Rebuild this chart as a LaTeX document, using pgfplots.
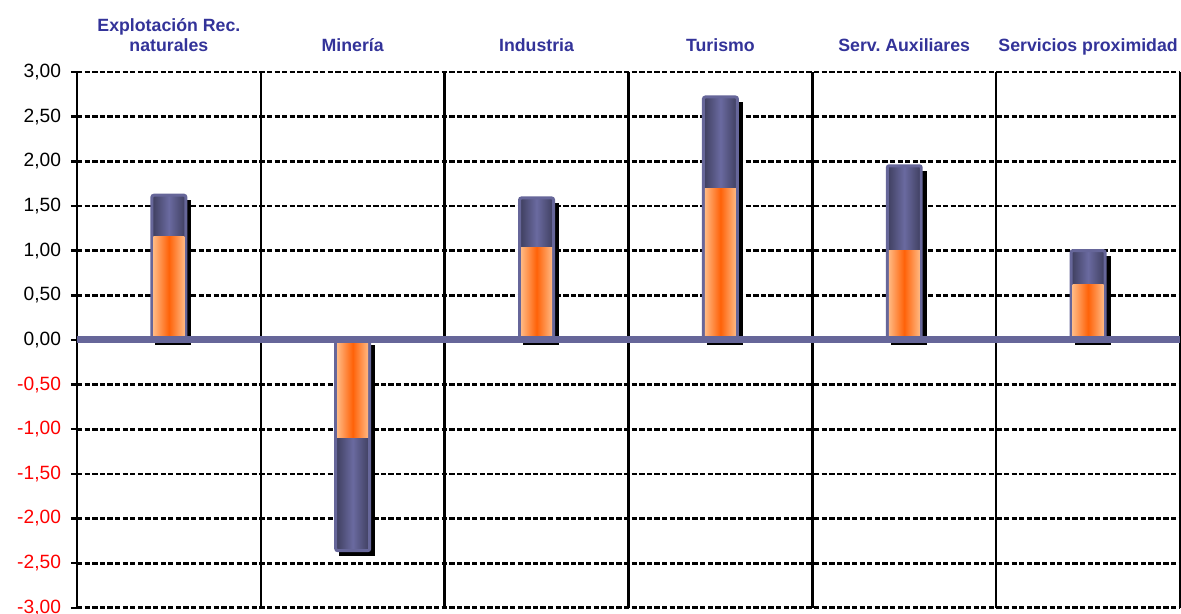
\documentclass[border=0pt]{standalone}
\usepackage{pgfplots}
\pgfplotsset{compat=1.18}
\usepackage{fontspec}
\setmainfont{Liberation Sans}
\frenchspacing
\definecolor{catblue}{HTML}{333399}
\definecolor{barrim}{HTML}{666699}
\definecolor{bardark}{HTML}{3E3E5E}
\definecolor{barmid}{HTML}{6A6AA0}
\definecolor{orcenter}{HTML}{FF6208}
\definecolor{oredge}{HTML}{FFB882}

\pgfplotsset{
  shadowbar/.style={ybar, bar width=27pt, bar shift=3.4pt, yshift=-3.75pt, fill=black, draw=none},
  outerbar/.style={ybar, bar width=25.5pt, bar shift=0pt, draw=barrim, line width=2.25pt,
    rounded corners=1.5pt, left color=bardark, right color=bardark, middle color=barmid},
  innerbar/.style={ybar, bar width=23.25pt, bar shift=0pt, draw=none,
    left color=oredge, right color=oredge, middle color=orcenter},
}

\begin{document}
\begin{tikzpicture}
\begin{axis}[
    name=ax,
    scale only axis,
    width=827.5pt, height=402pt,
    xmin=-0.5, xmax=5.5,
    ymin=-3, ymax=3,
    axis line style={draw=none},
    xtick={0,...,5},
    xticklabels={\shortstack{Explotación Rec.\\naturales},Minería,Industria,Turismo,Serv. Auxiliares,Servicios proximidad},
    xtick pos=right, xticklabel pos=right,
    xticklabel style={anchor=base, yshift=10.5pt, font=\bfseries\fontsize{13.3}{15}\selectfont, text=catblue},
    xtick style={draw=none},
    minor xtick={-0.5,0.5,...,5.5},
    xminorgrids=true,
    minor x grid style={black, line width=1.9pt, solid},
    ytick={-3,-2.5,...,3},
    yticklabels={\textcolor{red}{-3,00},\textcolor{red}{-2,50},\textcolor{red}{-2,00},\textcolor{red}{-1,50},\textcolor{red}{-1,00},\textcolor{red}{-0,50},{0,00},{0,50},{1,00},{1,50},{2,00},{2,50},{3,00}},
    ytick pos=left,
    tick align=outside,
    major tick length=4.5pt,
    ytick style={black, line width=1.9pt},
    yticklabel style={font=\fontsize{14.4}{16}\selectfont, xshift=-4pt},
    ymajorgrids=true,
    major y grid style={black, line width=2pt, dash pattern=on 4pt off 1.7pt},
]
% shadows
\addplot[shadowbar] coordinates {(0,1.62)};
\addplot[shadowbar] coordinates {(1,-2.36)};
\addplot[shadowbar] coordinates {(2,1.59)};
\addplot[shadowbar] coordinates {(3,2.72)};
\addplot[shadowbar] coordinates {(4,1.95)};
\addplot[shadowbar] coordinates {(5,1.00)};
% outer (total) bars
\addplot[outerbar] coordinates {(0,1.62)};
\addplot[outerbar] coordinates {(1,-2.36)};
\addplot[outerbar] coordinates {(2,1.59)};
\addplot[outerbar] coordinates {(3,2.72)};
\addplot[outerbar] coordinates {(4,1.95)};
\addplot[outerbar] coordinates {(5,1.00)};
% inner bars
\addplot[innerbar] coordinates {(0,1.16)};
\addplot[innerbar] coordinates {(1,-1.09)};
\addplot[innerbar] coordinates {(2,1.04)};
\addplot[innerbar] coordinates {(3,1.69)};
\addplot[innerbar] coordinates {(4,1.00)};
\addplot[innerbar] coordinates {(5,0.62)};
\draw[barrim, line width=5.25pt] (axis cs:-0.5,0) -- (axis cs:5.5,0);
\end{axis}
\pgfresetboundingbox
\path ([xshift=-57.75pt, yshift=-4.5pt]ax.south west) rectangle ([xshift=0.75pt, yshift=54pt]ax.north east);
\end{tikzpicture}
\end{document}
